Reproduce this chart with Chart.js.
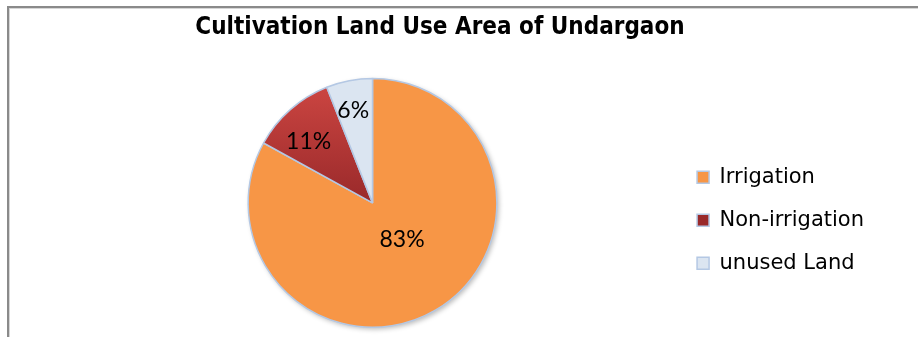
<!DOCTYPE html>
<html>
<head>
<meta charset="utf-8">
<script src="https://cdn.jsdelivr.net/npm/chart.js@4/dist/chart.umd.min.js"></script>
<style>
  html, body { margin: 0; padding: 0; background: #fff; overflow: hidden; }
  #frame {
    position: absolute; left: 7px; top: 6px; width: 940px; height: 360px;
    border-top: 2px solid #8a8a8a; border-left: 2px solid #8a8a8a;
    box-shadow: inset 1px 1px 0 #d6d6d6;
  }
  #wrap { position: absolute; left: 0; top: 0; width: 918px; height: 337px; }
</style>
</head>
<body>
<div id="frame"></div>
<div id="wrap"><canvas id="chart"></canvas></div>
<script>
// ---- data ----
const TITLE = "Cultivation Land Use Area of Undargaon";
const CATEGORIES = ["Irrigation", "Non-irrigation", "unused Land"];
const SHARES = [83, 11, 6];

// ---- style ----
const ORANGE = "#F79646";
const RED_TOP = "#cd4642";
const RED_BOTTOM = "#99292a";
const PALE = "#DBE5F1";
const EDGE = "#b4c8e4";

// where each percentage sits: fraction of radius + angle nudge (deg)
const LABEL_PLACE = [
  { r: 0.38, da: -8 },
  { r: 0.71, da: -5 },
  { r: 0.76, da: -1 }
];

const TITLE_SHIFT = 32;   // title sits left of the layout centre in the original

function sliceColor(ctx) {
  const i = ctx.dataIndex;
  if (i === 0) return ORANGE;
  if (i === 2) return PALE;
  const area = ctx.chart.chartArea;
  if (!area) return RED_TOP;
  const cy = (area.top + area.bottom) / 2;
  const g = ctx.chart.ctx.createLinearGradient(0, area.top + 5, 0, cy);
  g.addColorStop(0, RED_TOP);
  g.addColorStop(1, RED_BOTTOM);
  return g;
}

// faint drop shadow under the pie
const pieShadow = {
  id: "pieShadow",
  beforeDatasetsDraw(chart) {
    const arc = chart.getDatasetMeta(0).data[0];
    if (!arc) return;
    const { x, y, outerRadius } = arc.getProps(["x", "y", "outerRadius"], true);
    const c = chart.ctx;
    c.save();
    c.shadowColor = "rgba(0,0,0,0.28)";
    c.shadowBlur = 5;
    c.shadowOffsetX = 2;
    c.shadowOffsetY = 2;
    c.beginPath();
    c.arc(x, y, outerRadius, 0, Math.PI * 2);
    c.fillStyle = EDGE;
    c.fill();
    c.restore();
  }
};

// percentage labels inside slices
const pctLabels = {
  id: "pctLabels",
  afterDatasetsDraw(chart) {
    const meta = chart.getDatasetMeta(0);
    const data = chart.data.datasets[0].data;
    const total = data.reduce((a, b) => a + b, 0);
    const c = chart.ctx;
    c.save();
    c.font = "23px Lato, 'DejaVu Sans Condensed', sans-serif";
    c.fillStyle = "#000";
    c.textAlign = "center";
    c.textBaseline = "middle";
    meta.data.forEach((arc, i) => {
      const p = arc.getProps(["x", "y", "startAngle", "endAngle", "outerRadius"], true);
      const place = LABEL_PLACE[i] || { r: 0.6, da: 0 };
      const mid = (p.startAngle + p.endAngle) / 2 + place.da * Math.PI / 180;
      const rr = p.outerRadius * place.r;
      const pct = Math.round(data[i] / total * 100) + "%";
      c.fillText(pct, p.x + Math.cos(mid) * rr, p.y + Math.sin(mid) * rr);
    });
    c.restore();
  }
};

const titleShift = {
  id: "titleShift",
  afterLayout(chart) {
    const t = chart.titleBlock;
    if (!t) return;
    t.left -= TITLE_SHIFT;
    t.right -= TITLE_SHIFT;
  }
};

new Chart(document.getElementById("chart").getContext("2d"), {
  type: "pie",
  data: {
    labels: CATEGORIES,
    datasets: [{
      data: SHARES,
      backgroundColor: sliceColor,
      borderColor: EDGE,
      borderWidth: 1.5
    }]
  },
  options: {
    responsive: true,
    maintainAspectRatio: false,
    animation: false,
    layout: { padding: { left: 70, right: 44, top: 0, bottom: 9 } },
    plugins: {
      title: {
        display: true,
        text: TITLE,
        color: "#000",
        font: { family: "'DejaVu Sans Condensed', 'Liberation Sans Narrow', sans-serif", size: 24, weight: "bold" },
        padding: { top: 13, bottom: 36 }
      },
      legend: {
        position: "right",
        fullSize: false,
        title: { display: true, text: " ", font: { size: 24 }, padding: { top: 6, bottom: 0 } },
        labels: {
          color: "#000",
          boxWidth: 12,
          boxHeight: 12,
          padding: 22,
          font: { family: "'DejaVu Sans', sans-serif", size: 21 }
        }
      },
      tooltip: { enabled: false }
    }
  },
  plugins: [pieShadow, pctLabels, titleShift]
});
</script>
</body>
</html>
